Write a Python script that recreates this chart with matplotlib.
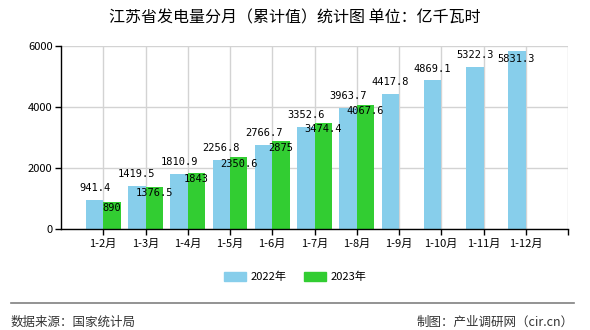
import matplotlib
matplotlib.use('Agg')
from matplotlib import pyplot as plt
from matplotlib.patches import Patch
import numpy as np

plt.rcParams['font.family'] = ['Noto Sans CJK SC', 'DejaVu Sans']

############## DATA ################

months = ['1-2月', '1-3月', '1-4月', '1-5月', '1-6月', '1-7月', '1-8月',
          '1-9月', '1-10月', '1-11月', '1-12月']
vals_2022 = [941.4, 1419.5, 1810.9, 2256.8, 2766.7, 3352.6, 3963.7,
             4417.8, 4869.1, 5322.3, 5831.3]
vals_2023 = [890, 1376.5, 1843, 2350.6, 2875, 3474.4, 4067.6]
yticks = [0, 2000, 4000, 6000]

blue = '#87CEEB'
green = '#32CD32'

fig = plt.figure(figsize=(5.9, 3.3), dpi=100)
ax = fig.add_axes([61 / 590, 101 / 330, 507 / 590, 183 / 330])

w = 0.41
ymax = yticks[-1]
x1 = np.arange(len(vals_2022))
x2 = np.arange(len(vals_2023))
ax.bar(x1 - w / 2, vals_2022, w, color=blue, zorder=2)
ax.bar(x2 + w / 2, vals_2023, w, color=green, zorder=2)

# value labels: 2022 above bar (pushed inside the plot if it would stick out),
# 2023 inside top of bar
for x, v in zip(x1, vals_2022):
    if v > ymax * 0.94:
        ax.annotate('{:g}'.format(v), (x - w / 2, ymax), xytext=(-1, -6),
                    textcoords='offset points', ha='center', va='top',
                    fontsize=7.5, family='DejaVu Sans Mono', zorder=4)
    else:
        ax.annotate('{:g}'.format(v), (x - w / 2, v), xytext=(0, 5),
                    textcoords='offset points', ha='center', va='bottom',
                    fontsize=7.5, family='DejaVu Sans Mono', zorder=4)
for x, v in zip(x2, vals_2023):
    ax.annotate('{:g}'.format(v), (x + w / 2, v), xytext=(0, -1),
                textcoords='offset points', ha='center', va='top',
                fontsize=7.5, family='DejaVu Sans Mono', zorder=4)

ax.set_xlim(-1, len(months))
ax.set_ylim(0, ymax)
ax.set_xticks(list(range(len(months) + 1)))
ax.set_xticklabels(months + [''], fontsize=8)
ax.set_yticks(yticks)
ax.set_yticklabels([str(t) for t in yticks], fontsize=8)
ax.tick_params(axis='both', direction='out', length=4, width=1, color='black', pad=2)
ax.tick_params(axis='x', pad=3)

ax.grid(True, color='#D3D3D3', linewidth=1, zorder=0)
ax.set_axisbelow(True)
for s in ['top', 'right']:
    ax.spines[s].set_visible(False)
for s in ['left', 'bottom']:
    ax.spines[s].set_color('black')
    ax.spines[s].set_linewidth(1)

fig.text(0.5, 1 - 18 / 330, '江苏省发电量分月（累计值）统计图 单位：亿千瓦时',
         ha='center', va='center', fontsize=11.5)

handles = [Patch(color=blue, label='2022年'), Patch(color=green, label='2023年')]
fig.legend(handles=handles, loc='center', bbox_to_anchor=(0.5, 1 - 277 / 330),
           ncol=2, frameon=False, fontsize=8, handlelength=2.0, handleheight=0.9,
           columnspacing=1.6, handletextpad=0.4)

fig.add_artist(plt.Line2D([11 / 590, 574 / 590], [1 - 303 / 330, 1 - 303 / 330],
                          color='#808080', linewidth=1.2))
fig.text(11 / 590, 1 - 322 / 330, '数据来源：国家统计局', ha='left', va='center',
         fontsize=9, color='#333333')
fig.text(574 / 590, 1 - 322 / 330, '制图：产业调研网（cir.cn）', ha='right', va='center',
         fontsize=9, color='#333333')

plt.savefig('out.png', dpi=100)
plt.close()
